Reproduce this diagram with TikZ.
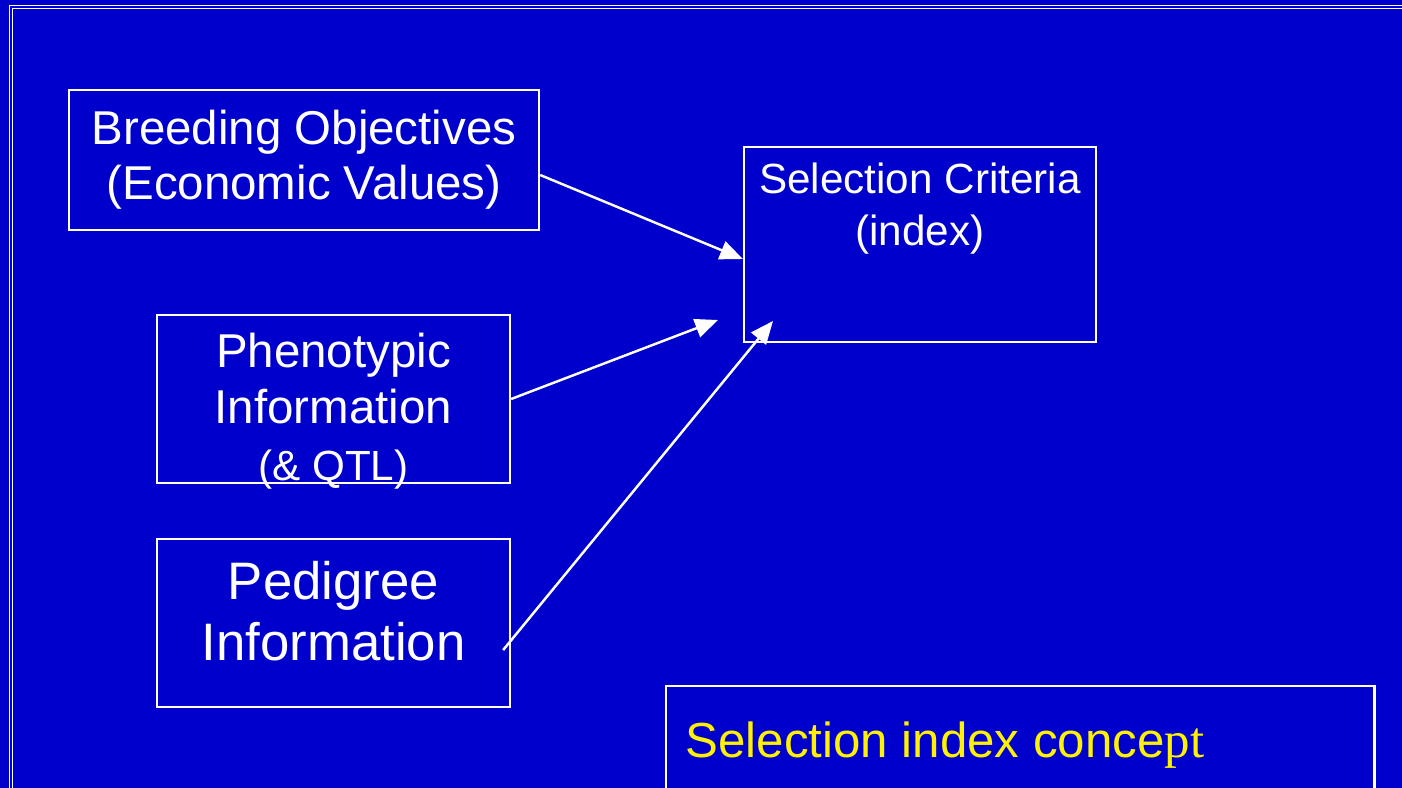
\documentclass[tikz,border=0pt]{standalone}
\usepackage{fontspec}
\setmainfont{Liberation Sans}
\newfontfamily\timesfont{Liberation Serif}
\usepackage{tikz}
\usetikzlibrary{arrows.meta}
\definecolor{slideblue}{HTML}{0000CC}
\tikzset{
  box/.style={draw=white, line width=0.6pt, text=white, align=center, inner sep=0pt},
  boxtxt/.style={text=white, align=center, inner sep=0pt},
  arr/.style={draw=white, line width=0.7pt, -{Triangle[length=6.5pt,width=5.4pt]}},
  frame/.style={draw=white, line width=0.4pt, double=slideblue, double distance=0.35pt}
}

\begin{document}
\begin{tikzpicture}[x=0.01cm, y=-0.01cm]
\fill[slideblue] (0,0) rectangle (1402,788);
\clip (0,0) rectangle (1402,788);
\draw[frame] (11,800) -- (11,7) -- (1410,7);
\node[box, minimum width=4.70cm, minimum height=1.40cm, font=\fontsize{13.5}{15.6}\selectfont] (obj) at (304,160) {Breeding Objectives\\(Economic Values)};
\node[box, minimum width=3.52cm, minimum height=1.95cm,
  label={[boxtxt, yshift=0.36cm, font=\fontsize{12}{14.8}\selectfont]center:Selection Criteria\\(index)}] (crit) at (920,244.5) {};
\node[box, minimum width=3.53cm, minimum height=1.68cm,
  label={[boxtxt, yshift=-0.12cm, font=\fontsize{13.5}{16}\selectfont]center:Phenotypic\\Information\\{\fontsize{12}{16}\selectfont(\& QTL)}}] (pheno) at (333.5,399) {};
\node[box, minimum width=3.53cm, minimum height=1.68cm,
  label={[boxtxt, yshift=0.12cm, font=\fontsize{15}{17.4}\selectfont]center:Pedigree\\Information}] (ped) at (333.5,623) {};
\node[box, anchor=north west, minimum width=7.08cm, minimum height=1.50cm] (concept) at (665,685) {};
\node[anchor=base west, text=yellow, inner sep=0pt, font=\fontsize{14}{16}\selectfont] (concepttxt) at ([xshift=0.20cm, yshift=-0.72cm]concept.north west) {Selection index conce{\timesfont\fontsize{14.5}{16}\selectfont pt}};
\coordinate (phenoend) at (718,320);
\coordinate (pedend) at (773,321);
\draw[arr] ([yshift=-0.15cm]obj.east) -- ([yshift=-0.145cm]crit.west);
\draw[arr] (pheno.east) -- (phenoend);
\draw[arr] ([xshift=-0.08cm, yshift=-0.27cm]ped.east) -- (pedend);
\end{tikzpicture}
\end{document}
